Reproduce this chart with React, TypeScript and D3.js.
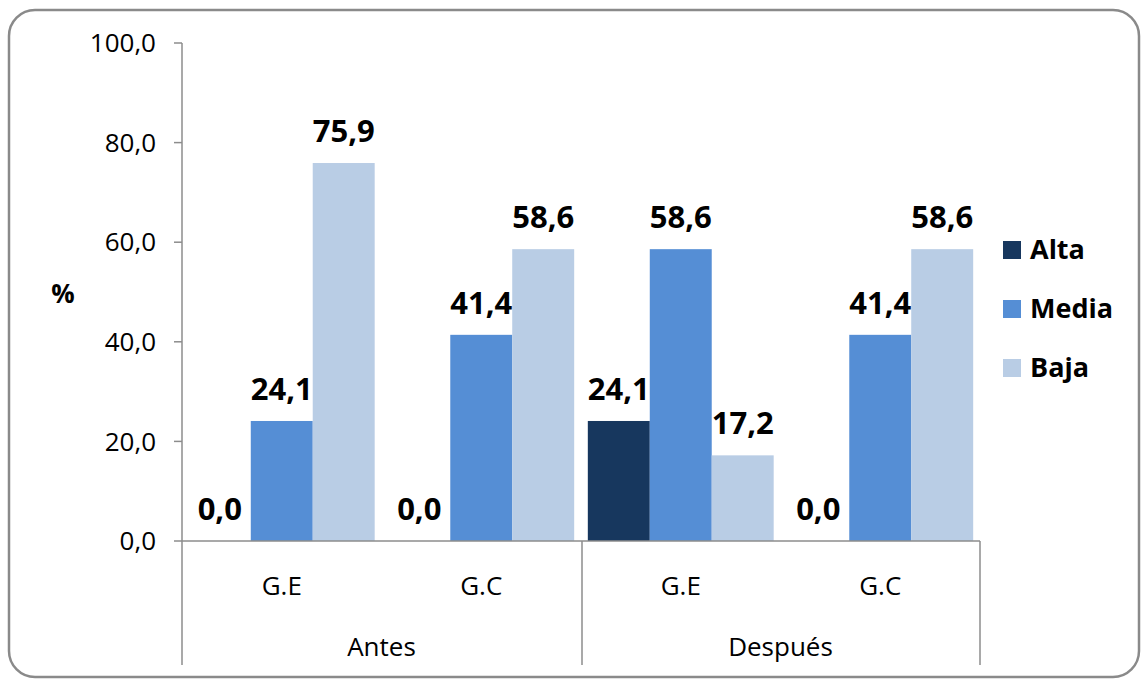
import React from "react";
import * as d3 from "d3";

const periods = ["Antes", "Después"];
const groups = ["G.E", "G.C"];
const series = ["Alta", "Media", "Baja"];
const colors = ["#17375E", "#558ED5", "#B9CDE5"];
// values per category (Antes G.E, Antes G.C, Después G.E, Después G.C) per series
const alta = [0.0, 0.0, 24.1, 0.0];
const media = [24.1, 41.4, 58.6, 41.4];
const baja = [75.9, 58.6, 17.2, 58.6];
const yTicks = [0, 20, 40, 60, 80, 100];

const W = 1141;
const H = 680;
const FONT = "'Open Sans', 'DejaVu Sans', sans-serif";

export default function App() {
  const cats = periods.flatMap((p) => groups.map((g) => `${p}|${g}`));
  const values = [alta, media, baja];
  const x0 = d3.scaleBand<string>().domain(cats).range([182, 980]).padding(0);
  const x1 = d3
    .scaleBand<string>()
    .domain(series)
    .range([0, x0.bandwidth()])
    .paddingInner(0)
    .paddingOuter(0.11);
  const y = d3.scaleLinear().domain([0, 100]).range([541, 43]);
  const fmt = (v: number) => v.toFixed(1).replace(".", ",");
  const pScale = d3.scaleBand<string>().domain(periods).range([182, 980]);
  const axisColor = "#8c8c8c";

  return (
    <div style={{ position: "fixed", left: 0, top: 0 }}>
      <svg width={W} height={H} style={{ display: "block", background: "#fff" }}>
        <rect
          x={9}
          y={10}
          width={1130}
          height={667}
          rx={26}
          ry={26}
          fill="#fff"
          stroke="#8a8a8a"
          strokeWidth={2.5}
        />
        {/* bars */}
        {cats.map((c, ci) =>
          series.map((s, si) => {
            const v = values[si][ci];
            const bx = (x0(c) ?? 0) + (x1(s) ?? 0);
            return (
              <rect
                key={`${c}-${s}`}
                x={bx}
                y={y(v)}
                width={x1.bandwidth()}
                height={y(0) - y(v)}
                fill={colors[si]}
              />
            );
          })
        )}
        {/* data labels */}
        {cats.map((c, ci) =>
          series.map((s, si) => {
            const v = values[si][ci];
            const cx = (x0(c) ?? 0) + (x1(s) ?? 0) + x1.bandwidth() / 2;
            return (
              <text
                key={`l-${c}-${s}`}
                x={cx}
                y={y(v) - 21}
                textAnchor="middle"
                fontFamily={FONT}
                fontWeight="bold"
                fontSize={31}
                fill="#000"
              >
                {fmt(v)}
              </text>
            );
          })
        )}
        {/* y axis */}
        <line x1={182} x2={182} y1={y(100)} y2={665} stroke={axisColor} strokeWidth={1.5} />
        {yTicks.map((t) => (
          <g key={t}>
            <line x1={174} x2={182} y1={y(t)} y2={y(t)} stroke={axisColor} strokeWidth={1.5} />
            <text
              x={156}
              y={y(t)}
              dy="0.35em"
              textAnchor="end"
              fontFamily={FONT}
              fontSize={26}
              fill="#000"
            >
              {fmt(t)}
            </text>
          </g>
        ))}
        {/* x baseline */}
        <line x1={182} x2={980} y1={y(0)} y2={y(0)} stroke={axisColor} strokeWidth={1.5} />
        {[582, 980].map((xx) => (
          <line key={xx} x1={xx} x2={xx} y1={y(0)} y2={665} stroke={axisColor} strokeWidth={1.5} />
        ))}
        {cats.map((c) => (
          <text
            key={`t-${c}`}
            x={(x0(c) ?? 0) + x0.bandwidth() / 2}
            y={595}
            textAnchor="middle"
            fontFamily={FONT}
            fontSize={26}
            fill="#000"
          >
            {c.split("|")[1]}
          </text>
        ))}
        {periods.map((p) => (
          <text
            key={`p-${p}`}
            x={(pScale(p) ?? 0) + pScale.bandwidth() / 2}
            y={656}
            textAnchor="middle"
            fontFamily={FONT}
            fontSize={26}
            fill="#000"
          >
            {p}
          </text>
        ))}
        {/* y title */}
        <text
          x={63}
          y={303}
          textAnchor="middle"
          fontFamily={FONT}
          fontWeight="bold"
          fontSize={26}
          fill="#000"
        >
          %
        </text>
        {/* legend */}
        {series.map((s, i) => {
          const cy = 250 + i * 59;
          return (
            <g key={`lg-${s}`}>
              <rect x={1003} y={cy - 9} width={18} height={18} fill={colors[i]} />
              <text
                x={1030}
                y={cy}
                dy="0.35em"
                fontFamily={FONT}
                fontWeight="bold"
                fontSize={27}
                fill="#000"
              >
                {s}
              </text>
            </g>
          );
        })}
      </svg>
    </div>
  );
}
